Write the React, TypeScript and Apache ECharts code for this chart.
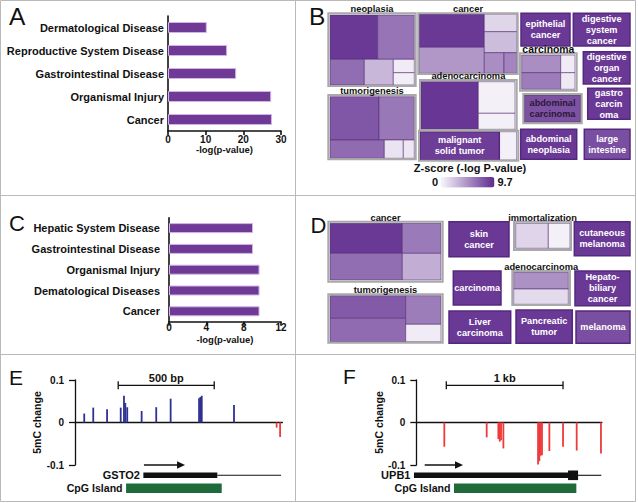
import React, { useEffect, useRef } from "react";
import * as echarts from "echarts";

const FONT = "'Liberation Sans', Arial, Helvetica, sans-serif";

// ---------- Panel A ----------
const aCategories = ["Dermatological Disease", "Reproductive System Disease", "Gastrointestinal Disease", "Organismal Injury", "Cancer"];
const aValues = [10.3, 15.7, 18.1, 27.4, 27.6];

// ---------- Panel C ----------
const cCategories = ["Hepatic System Disease", "Gastrointestinal Disease", "Organismal Injury", "Dematological Diseases", "Cancer"];
const cValues = [9.0, 9.0, 9.7, 9.7, 9.7];

// ---------- Panel B treemap (panel-local units: [x0, y0, x1, y1, z]) ----------
const bGroupBoxes = [
  [13.3, 13.3, 100.7, 86], [103.3, 13.3, 202.7, 74], [13.3, 95, 100.7, 159.3],
  [105, 80, 201.7, 130], [104, 130.7, 203.3, 160.7], [205, 53.3, 261.7, 90.7], [208.3, 94, 266.7, 123.3],
];
const bGroupNames = ["neoplasia", "cancer", "tumorigenesis", "adenocarcinoma", "", "carcinoma", ""];
const bCells = [
  [15, 15, 62.7, 59.3, 9.0], [62.7, 15, 99.3, 59.3, 6.2], [15, 59.3, 49.3, 85, 6.5],
  [49.3, 59.3, 78.3, 85, 3.0], [78.3, 59.3, 99.3, 72.7, 0.5], [78.3, 72.7, 99.3, 85, 0.4],
  [104, 14, 169.3, 47.3, 9.0], [104, 47.3, 169.3, 73.3, 4.5], [169.3, 14, 202, 31.7, 1.5],
  [169.3, 31.7, 202, 52.7, 2.7], [169.3, 52.7, 189, 73.3, 5.0], [189, 52.7, 202, 73.3, 5.4],
  [15, 96.7, 64, 140, 7.6], [64, 96.7, 99.3, 140, 6.0], [15, 140, 69.3, 158.3, 6.6],
  [69.3, 140, 88.3, 158.3, 0.9], [88.3, 140, 99.3, 158.3, 0.7],
  [106, 81.7, 163.3, 129.3, 9.1], [163.3, 81.7, 200, 113.3, 0.3], [163.3, 113.3, 200, 129.3, 0.3],
  [184.3, 131.7, 201.7, 160, 0.3],
  [206.7, 55, 245.7, 72.7, 5.0], [245.7, 55, 260, 72.7, 0.5], [206.7, 72.7, 245.7, 89.3, 5.8], [245.7, 72.7, 260, 89.3, 0.6],
];
const bTiles = [
  [105, 131.7, 184.3, 160, 8.8], [206, 13.3, 255, 46, 9.0], [258.3, 13.3, 315, 46, 9.0],
  [268.3, 51.7, 315, 84, 9.0], [209.5, 95.2, 265.5, 122.1, 7.8], [272.7, 88.3, 315, 119.3, 9.0],
  [205.7, 129.3, 261.7, 159.3, 9.0], [269.3, 129.3, 315, 159.3, 8.0],
];
const bTileNames = [
  "malignant\nsolid tumor", "epithelial\ncancer", "digestive\nsystem\ncancer", "digestive\norgan\ncancer",
  "abdominal\ncarcinoma", "gastro\ncarcin\noma", "abdominal\nneoplasia", "large\nintestine",
];
const zMin = 0;
const zMax = 9.7;

// ---------- Panel D treemap ----------
const dGroupBoxes = [
  [13.3, 26.7, 127.7, 86.7], [13.3, 99.3, 127.7, 147.7], [199, 26.7, 256, 55], [197.3, 76, 255, 110],
];
const dGroupNames = ["cancer", "tumorigenesis", "immortalization", "adenocarcinoma"];
const dCells = [
  [15, 28.3, 87.3, 58.3, 9.0], [87.3, 28.3, 126, 58.3, 5.9], [15, 58.3, 87.3, 85, 6.5], [87.3, 58.3, 126, 85, 3.4],
  [15, 100.7, 90.7, 123.3, 7.4], [15, 123.3, 90.7, 146.7, 6.6], [90.7, 100.7, 126, 129.3, 5.8], [90.7, 129.3, 126, 146.7, 0.5],
  [200.7, 28.3, 233.3, 53.3, 1.6], [233.3, 28.3, 255, 53.3, 0.3],
  [198.7, 77.3, 253.3, 94, 4.8], [198.7, 94, 253.3, 109.3, 1.3],
];
const dTiles = [
  [134, 26.7, 194, 61.7, 9.0], [259.3, 26.7, 315, 60.7, 9.0], [138.3, 76, 186, 110, 9.0],
  [260, 76, 315, 110.7, 9.0], [134, 116, 195.7, 148.3, 9.0], [201, 115, 257.3, 148.3, 9.0], [261, 116, 315, 148.3, 8.0],
];
const dTileNames = [
  "skin\ncancer", "cutaneous\nmelanoma", "carcinoma", "Hepato-\nbiliary\ncancer",
  "Liver\ncarcinoma", "Pancreatic\ntumor", "melanoma",
];

// ---------- Panel E (GSTO2) ----------
const eBp = [48, 95, 167, 238, 255, 262, 272, 347, 423, 498, 646, 653, 660, 828, 1050, 1068];
const eVal = [0.021, 0.035, 0.031, 0.035, 0.063, 0.046, 0.036, 0.027, 0.036, 0.056, 0.057, 0.06, 0.063, 0.041, -0.012, -0.034];
// gene features: [start bp, end bp, kind]  kinds: 0 scale bar, 1 arrow, 2 exon thick, 3 thin, 4 box, 5 CpG
const eFeatures = [[225, 725, 0], [359, 573, 1], [356, 741, 2], [741, 1073, 3], [266, 764, 5]];
const eFeatureLabels = ["500 bp", "", "GSTO2", "", "CpG Island"];

// ---------- Panel F (UPB1) ----------
const fBp = [240, 603, 703, 715, 726, 746, 1043, 1054, 1066, 1077, 1140, 1257, 1374, 1582];
const fVal = [-0.057, -0.035, -0.039, -0.045, -0.042, -0.061, -0.099, -0.091, -0.078, -0.077, -0.067, -0.057, -0.066, -0.073];
const fFeatures = [[257, 1257, 0], [72, 400, 1], [-20, 1328, 2], [1386, 1585, 3], [1300, 1386, 4], [323, 1371, 5]];
const fFeatureLabels = ["1 kb", "", "UPB1", "", "", "CpG Island"];

const yTicksMeth = [-0.1, 0, 0.1];

const txt = (size: number, bold = true, color = "#111") => ({
  fontFamily: FONT, fontSize: size, fontWeight: bold ? "bold" : "normal", color,
});

function makeCellRender() {
  return (_p: any, api: any) => {
    const p0 = api.coord([api.value(0), api.value(1)]);
    const p1 = api.coord([api.value(2), api.value(3)]);
    return {
      type: "rect",
      shape: { x: p0[0], y: p0[1], width: p1[0] - p0[0], height: p1[1] - p0[1] },
      style: { fill: api.visual("color"), stroke: "rgba(80,40,110,0.55)", lineWidth: 1 },
    };
  };
}

function makeTileRender(names: string[]) {
  return (p: any, api: any) => {
    const p0 = api.coord([api.value(0), api.value(1)]);
    const p1 = api.coord([api.value(2), api.value(3)]);
    const name = names[p.dataIndex];
    const dark = name === "abdominal\ncarcinoma";
    return {
      type: "group",
      children: [
        {
          type: "rect",
          shape: { x: p0[0], y: p0[1], width: p1[0] - p0[0], height: p1[1] - p0[1] },
          style: { fill: api.visual("color"), stroke: dark ? "#6a4a86" : "#55287f", lineWidth: 1.5 },
        },
        {
          type: "text",
          x: (p0[0] + p1[0]) / 2,
          y: (p0[1] + p1[1]) / 2,
          style: {
            text: name, align: "center", verticalAlign: "middle",
            fill: dark ? "#2a1838" : "#ffffff",
            fontFamily: FONT, fontSize: 9.2, fontWeight: "bold", lineHeight: 11,
          },
        },
      ],
    };
  };
}

function makeGroupRender(names: string[]) {
  return (p: any, api: any) => {
    const p0 = api.coord([api.value(0), api.value(1)]);
    const p1 = api.coord([api.value(2), api.value(3)]);
    const name = names[p.dataIndex];
    const big = name === "carcinoma";
    return {
      type: "group",
      children: [
        {
          type: "rect",
          shape: { x: p0[0], y: p0[1], width: p1[0] - p0[0], height: p1[1] - p0[1] },
          style: { fill: "none", stroke: "#a9a9a9", lineWidth: 2 },
        },
        {
          type: "text",
          x: (p0[0] + p1[0]) / 2,
          y: p0[1] - 4,
          style: {
            text: name, align: "center", verticalAlign: "middle", fill: "#111",
            fontFamily: FONT, fontSize: big ? 10.4 : 9.3, fontWeight: "bold",
          },
        },
      ],
    };
  };
}

function makeMethRender(colorFn: (v: number) => string) {
  return (_p: any, api: any) => {
    const x = api.value(0);
    const v = api.value(1);
    const a = api.coord([x, 0]);
    const b = api.coord([x, v]);
    const w = 1.8;
    return {
      type: "rect",
      shape: { x: a[0] - w / 2, y: Math.min(a[1], b[1]), width: w, height: Math.abs(b[1] - a[1]) },
      style: { fill: colorFn(v) },
    };
  };
}

function makeGeneRender(labels: string[]) {
  return (p: any, api: any) => {
    const x0 = api.coord([api.value(0), 0])[0];
    const x1 = api.coord([api.value(1), 0])[0];
    const kind = api.value(2);
    const yTop = api.coord([0, 0.1])[1];
    const yBot = api.coord([0, -0.1])[1];
    const label = labels[p.dataIndex];
    const black = "#111";
    const children: any[] = [];
    if (kind === 0) {
      const y = yTop + 5.3;
      children.push(
        { type: "line", shape: { x1: x0, y1: y, x2: x1, y2: y }, style: { stroke: black, lineWidth: 1.3 } },
        { type: "line", shape: { x1: x0, y1: y - 4, x2: x0, y2: y + 4 }, style: { stroke: black, lineWidth: 1.3 } },
        { type: "line", shape: { x1: x1, y1: y - 4, x2: x1, y2: y + 4 }, style: { stroke: black, lineWidth: 1.3 } },
        {
          type: "text", x: (x0 + x1) / 2, y: yTop - 1.7,
          style: { text: label, align: "center", verticalAlign: "middle", fill: black, fontFamily: FONT, fontSize: 11, fontWeight: "bold" },
        }
      );
    } else if (kind === 1) {
      const y = yBot;
      children.push(
        { type: "line", shape: { x1: x0, y1: y, x2: x1 - 6, y2: y }, style: { stroke: black, lineWidth: 1.5 } },
        { type: "polygon", shape: { points: [[x1 - 8, y - 3.8], [x1, y], [x1 - 8, y + 3.8]] }, style: { fill: black } }
      );
    } else if (kind === 2) {
      const y = yBot + 10.3;
      children.push({ type: "rect", shape: { x: x0, y: y - 2.8, width: x1 - x0, height: 5.6 }, style: { fill: black } });
    } else if (kind === 3) {
      const y = yBot + 10.3;
      children.push({ type: "line", shape: { x1: x0, y1: y, x2: x1, y2: y }, style: { stroke: black, lineWidth: 1.1 } });
    } else if (kind === 4) {
      const y = yBot + 10.3;
      children.push({ type: "rect", shape: { x: x0, y: y - 4.8, width: x1 - x0, height: 9.6 }, style: { fill: black } });
    } else if (kind === 5) {
      const y = yBot + 23.3;
      children.push({ type: "rect", shape: { x: x0, y: y - 4.8, width: x1 - x0, height: 9.6 }, style: { fill: "#1f6a3b" } });
    }
    if (label && kind !== 0) {
      const y = kind === 5 ? yBot + 23.2 : yBot + 10.3;
      children.push({
        type: "text", x: x0 - 3.5, y,
        style: {
          text: label, align: "right", verticalAlign: "middle", fill: black, fontFamily: FONT,
          fontSize: kind === 5 ? 10.6 : 11, fontWeight: "bold",
        },
      });
    }
    return { type: "group", children };
  };
}

const methLabelFmt = (v: number) => (Math.abs(v) < 1e-9 ? "0" : String(Math.round(v * 10) / 10));

export default function App() {
  const ref = useRef<HTMLDivElement>(null);
  useEffect(() => {
    if (!ref.current) return;
    const chart = echarts.init(ref.current, undefined, { renderer: "svg" });
    const axisBlack = { color: "#111", width: 1.6 };
    const hiddenX = (gi: number, max: number) => ({ gridIndex: gi, type: "value", min: 0, max, show: false });
    const hiddenY = (gi: number, max: number) => ({ gridIndex: gi, type: "value", min: 0, max, inverse: true, show: false });
    const methX = (gi: number, max: number) => ({
      gridIndex: gi, type: "value", min: 0, max,
      axisLine: { show: true, onZero: true, lineStyle: { color: "#111", width: 1.3 } },
      axisTick: { show: false }, axisLabel: { show: false }, splitLine: { show: false },
    });
    const methY = (gi: number) => ({
      gridIndex: gi, type: "value", min: yTicksMeth[0], max: yTicksMeth[2], interval: 0.1,
      axisLine: { show: true, onZero: false, lineStyle: { color: "#111", width: 1.3 } },
      axisTick: { show: true, length: 6, lineStyle: { color: "#111", width: 1.3 } },
      axisLabel: { margin: 11, formatter: methLabelFmt, ...txt(10) },
      splitLine: { show: false },
      name: "5mC change", nameLocation: "middle", nameRotate: 90, nameGap: 31,
      nameTextStyle: txt(10.5),
    });

    const option: any = {
      animation: false,
      backgroundColor: "#ffffff",
      grid: [
        { left: 168, top: 16, width: 113, height: 115 },
        { left: 169, top: 217.7, width: 112, height: 104 },
        { left: 315, top: 0, width: 323, height: 196 },
        { left: 315, top: 195, width: 323, height: 160 },
        { left: 75, top: 380, width: 207.4, height: 85 },
        { left: 416.3, top: 380, width: 185.6, height: 85 },
      ],
      xAxis: [
        {
          gridIndex: 0, type: "value", min: 0, max: 30, interval: 10,
          axisLine: { show: true, lineStyle: axisBlack },
          axisTick: { show: true, length: 4, lineStyle: axisBlack },
          axisLabel: { margin: 3, ...txt(10) }, splitLine: { show: false },
          name: "-log(p-value)", nameLocation: "middle", nameGap: 12, nameTextStyle: txt(9.5),
        },
        {
          gridIndex: 1, type: "value", min: 0, max: 12, interval: 4,
          axisLine: { show: true, lineStyle: axisBlack },
          axisTick: { show: true, length: 4, lineStyle: axisBlack },
          axisLabel: { margin: 1, ...txt(10) }, splitLine: { show: false },
          name: "-log(p-value)", nameLocation: "middle", nameGap: 13, nameTextStyle: txt(9.5),
        },
        hiddenX(2, 323),
        hiddenX(3, 323),
        methX(4, 1080),
        methX(5, 1590),
      ],
      yAxis: [
        {
          gridIndex: 0, type: "category", data: aCategories, inverse: true,
          axisLine: { show: true, lineStyle: axisBlack }, axisTick: { show: false },
          axisLabel: { margin: 4, ...txt(11) },
        },
        {
          gridIndex: 1, type: "category", data: cCategories, inverse: true,
          axisLine: { show: true, lineStyle: axisBlack }, axisTick: { show: false },
          axisLabel: { margin: 9, ...txt(11) },
        },
        hiddenY(2, 196),
        hiddenY(3, 160),
        methY(4),
        methY(5),
      ],
      visualMap: {
        type: "continuous", min: zMin, max: zMax, dimension: 4, seriesIndex: [2, 3, 5, 6],
        orient: "horizontal", left: 432, top: 176.7, itemWidth: 10.6, itemHeight: 53.3,
        text: ["9.7", "0"], textGap: 3, calculable: false, padding: 0, hoverLink: false,
        inRange: { color: ["#f8f6fb", "#5f2a8e"] },
        textStyle: txt(11),
      },
      series: [
        {
          type: "bar", xAxisIndex: 0, yAxisIndex: 0, data: aValues, barWidth: 11,
          itemStyle: { color: "#6f3a96", borderColor: "#d2b4e6", borderWidth: 1 },
        },
        {
          type: "bar", xAxisIndex: 1, yAxisIndex: 1, data: cValues, barWidth: 10,
          itemStyle: { color: "#6f3a96", borderColor: "#d2b4e6", borderWidth: 1 },
        },
        { type: "custom", xAxisIndex: 2, yAxisIndex: 2, data: bCells, renderItem: makeCellRender(), clip: false },
        { type: "custom", xAxisIndex: 2, yAxisIndex: 2, data: bTiles, renderItem: makeTileRender(bTileNames), clip: false },
        { type: "custom", xAxisIndex: 2, yAxisIndex: 2, data: bGroupBoxes, renderItem: makeGroupRender(bGroupNames), clip: false },
        { type: "custom", xAxisIndex: 3, yAxisIndex: 3, data: dCells, renderItem: makeCellRender(), clip: false },
        { type: "custom", xAxisIndex: 3, yAxisIndex: 3, data: dTiles, renderItem: makeTileRender(dTileNames), clip: false },
        { type: "custom", xAxisIndex: 3, yAxisIndex: 3, data: dGroupBoxes, renderItem: makeGroupRender(dGroupNames), clip: false },
        {
          type: "custom", xAxisIndex: 4, yAxisIndex: 4, clip: false,
          data: eBp.map((b, i) => [b, eVal[i]]),
          renderItem: makeMethRender((v) => (v >= 0 ? "#2e3192" : "#ee3a3a")),
        },
        { type: "custom", xAxisIndex: 4, yAxisIndex: 4, clip: false, data: eFeatures, renderItem: makeGeneRender(eFeatureLabels) },
        {
          type: "custom", xAxisIndex: 5, yAxisIndex: 5, clip: false,
          data: fBp.map((b, i) => [b, fVal[i]]),
          renderItem: makeMethRender((v) => (v >= 0 ? "#2e3192" : "#ee3a3a")),
        },
        { type: "custom", xAxisIndex: 5, yAxisIndex: 5, clip: false, data: fFeatures, renderItem: makeGeneRender(fFeatureLabels) },
      ],
      graphic: [
        { type: "rect", shape: { x: 0.5, y: 0.5, width: 635, height: 501 }, style: { fill: "none", stroke: "#b9b9b9", lineWidth: 1 } },
        { type: "line", shape: { x1: 295.5, y1: 0.5, x2: 295.5, y2: 501.5 }, style: { stroke: "#b9b9b9", lineWidth: 1 } },
        { type: "line", shape: { x1: 0.5, y1: 195.5, x2: 635.5, y2: 195.5 }, style: { stroke: "#b9b9b9", lineWidth: 1 } },
        { type: "line", shape: { x1: 0.5, y1: 354.5, x2: 635.5, y2: 354.5 }, style: { stroke: "#b9b9b9", lineWidth: 1 } },
        { type: "text", x: 9, y: 16, style: { text: "A", fontFamily: FONT, fontSize: 24.5, fill: "#111", verticalAlign: "middle" } },
        { type: "text", x: 309, y: 16, style: { text: "B", fontFamily: FONT, fontSize: 24.5, fill: "#111", verticalAlign: "middle" } },
        { type: "text", x: 9, y: 223.7, style: { text: "C", fontFamily: FONT, fontSize: 22, fill: "#111", verticalAlign: "middle" } },
        { type: "text", x: 310.5, y: 225.3, style: { text: "D", fontFamily: FONT, fontSize: 22, fill: "#111", verticalAlign: "middle" } },
        { type: "text", x: 9, y: 377, style: { text: "E", fontFamily: FONT, fontSize: 21, fill: "#111", verticalAlign: "middle" } },
        { type: "text", x: 343, y: 376, style: { text: "F", fontFamily: FONT, fontSize: 21, fill: "#111", verticalAlign: "middle" } },
        {
          type: "text", x: 470, y: 168.3,
          style: { text: "Z-score (-log P-value)", fontFamily: FONT, fontSize: 11, fontWeight: "bold", fill: "#111", align: "center", verticalAlign: "middle" },
        },
      ],
    };
    chart.setOption(option);
    return () => chart.dispose();
  }, []);
  return <div ref={ref} style={{ position: "absolute", left: 0, top: 0, width: 638, height: 503 }} />;
}
